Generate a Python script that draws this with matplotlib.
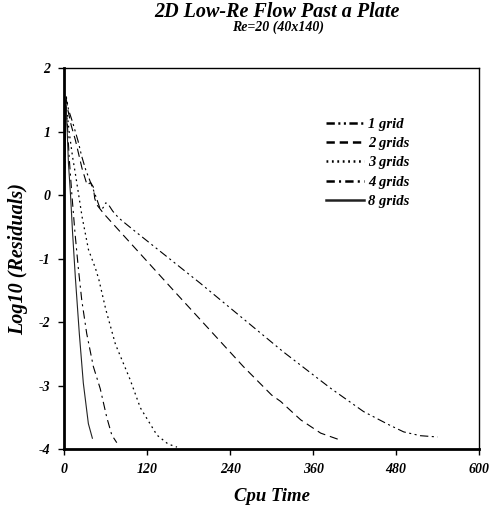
import matplotlib
matplotlib.use("Agg")
import matplotlib.pyplot as plt

# Residual history (log10) vs CPU time for each multigrid level count
cpu_1grid = [0, 1, 3, 6, 12, 20, 25, 31, 38, 45, 52, 56, 60, 64, 70, 78, 85.5,
             102.5, 197, 317, 385, 433, 470, 491, 515, 540]
res_1grid = [0, 0.8, 1.55, 1.35, 1.15, 0.85, 0.62, 0.4, 0.2, 0.0, -0.22, -0.2,
             -0.12, -0.15, -0.25, -0.35, -0.42, -0.57, -1.39, -2.47, -3.04,
             -3.41, -3.62, -3.73, -3.79, -3.81]

cpu_2grids = [0, 1, 3, 6, 10, 16, 25.7, 33, 38, 42, 44, 47, 57, 158, 259, 300,
              313, 342, 371, 397, 400]
res_2grids = [0, 0.9, 1.5, 1.3, 1.1, 0.87, 0.42, 0.16, 0.2, 0.13, -0.05, -0.15,
              -0.29, -1.5, -2.7, -3.15, -3.25, -3.54, -3.75, -3.85, -3.86]

cpu_3grids = [0, 1, 2.5, 4, 7, 12, 16, 25.7, 35, 45, 50, 60, 74, 95, 110, 134,
              150, 163]
res_3grids = [0, 0.9, 1.4, 1.3, 1.0, 0.6, 0.34, -0.34, -0.86, -1.15, -1.33,
              -1.8, -2.35, -2.9, -3.35, -3.78, -3.92, -3.97]

cpu_4grids = [0, 1, 2, 4, 7, 11, 15.5, 20.3, 25.2, 32.4, 42, 52, 61.4, 68.7, 75.9]
res_4grids = [0, 1.0, 1.45, 1.2, 0.6, 0.0, -0.6, -1.15, -1.65, -2.18, -2.7,
              -3.05, -3.5, -3.78, -3.9]

cpu_8grids = [0, 1, 2, 3.5, 6, 9, 12, 16, 21.7, 27.5, 34.8, 40.6]
res_8grids = [0, 1.1, 1.5, 1.2, 0.5, 0.0, -0.6, -1.3, -2.18, -2.96, -3.6, -3.83]

x_ticks = [0, 120, 240, 360, 480, 600]
y_ticks = [-4, -3, -2, -1, 0, 1, 2]

FONT = dict(family="Liberation Serif", weight="bold", style="italic")

# dash lengths in points, independent of line width
plt.rcParams["lines.scale_dashes"] = False

fig = plt.figure(figsize=(4.97, 5.11), dpi=100)
ax = fig.add_axes([0.1294, 0.1213, 0.8344, 0.745])

series = [
    (cpu_1grid, res_1grid, "1 grid", (0, (6, 2.5, 1.5, 2.5, 1.5, 2.5)), 0.8, "black"),
    (cpu_2grids, res_2grids, "2 grids", (0, (6, 3.5)), 0.8, "black"),
    (cpu_3grids, res_3grids, "3 grids", (0, (1.3, 2.6)), 0.9, "black"),
    (cpu_4grids, res_4grids, "4 grids", (0, (6, 3, 1.5, 3)), 0.8, "black"),
    (cpu_8grids, res_8grids, "8 grids", "-", 0.8, "#222222"),
]
for x, y, label, ls, lw, color in series:
    ax.plot(x, y, linestyle=ls, linewidth=lw, color=color, label=label)

ax.set_xlim(0, 600)
ax.set_ylim(-4, 2)
ax.set_xticks(x_ticks)
ax.set_yticks(y_ticks)
ax.set_xticklabels([str(v) for v in x_ticks], fontdict=dict(FONT, size=10))
ax.set_yticklabels([str(v) for v in y_ticks], fontdict=dict(FONT, size=10))
ax.tick_params(direction="out", length=4, width=1, pad=6)

for side in ("left", "bottom"):
    ax.spines[side].set_linewidth(2.0)
for side in ("top", "right"):
    ax.spines[side].set_linewidth(1.0)

ax.set_xlabel("Cpu Time", fontdict=dict(FONT, size=13.5), labelpad=9)
ax.set_ylabel("Log10 (Residuals)", fontdict=dict(FONT, size=14.5), labelpad=8)

fig.text(0.558, 0.976, "2D Low-Re Flow Past a Plate", ha="center", va="center",
         fontdict=dict(FONT, size=14.5))
fig.text(0.56, 0.946, "Re=20 (40x140)", ha="center", va="center",
         fontdict=dict(FONT, size=10))

leg = ax.legend(loc="upper left", bbox_to_anchor=(0.6, 0.905), frameon=False,
                prop=dict(FONT, size=10.5), handlelength=2.6, handletextpad=0.25,
                labelspacing=0.42)
for line in leg.get_lines():
    line.set_linewidth(1.8)

fig.savefig("out.png", dpi=100)
